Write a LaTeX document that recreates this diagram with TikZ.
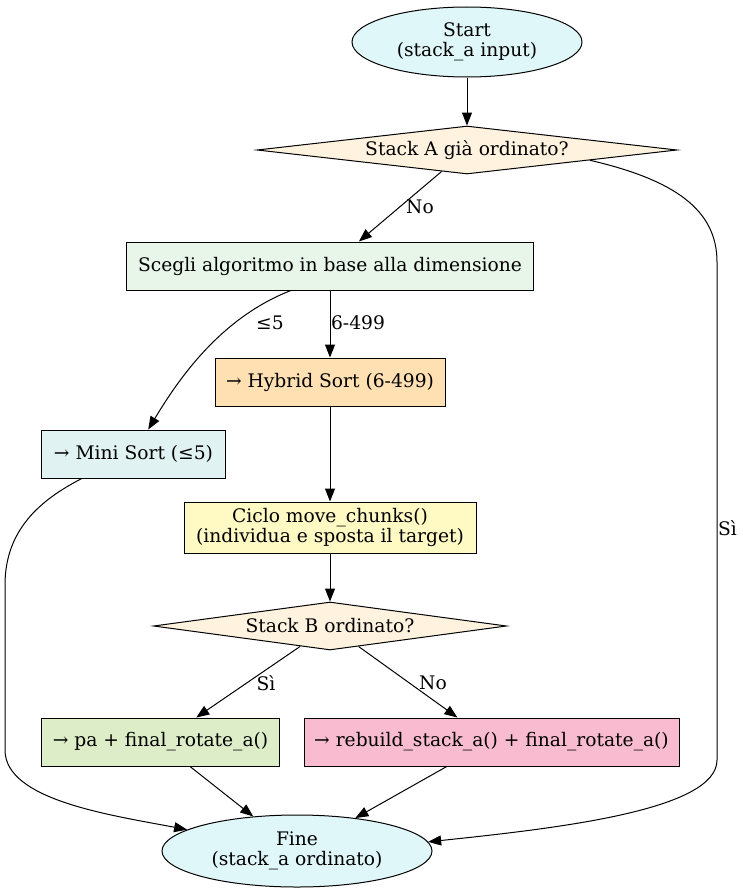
\documentclass[tikz,border=0pt]{standalone}
\usepackage{fontspec}
\setmainfont{DejaVu Serif}
\usetikzlibrary{shapes.geometric,arrows.meta,calc}
\definecolor{cterm}{HTML}{E0F7FA}
\definecolor{cdec}{HTML}{FFF3E0}
\definecolor{csc}{HTML}{E8F5E9}
\definecolor{chy}{HTML}{FFE0B2}
\definecolor{cmini}{HTML}{E0F2F1}
\definecolor{cci}{HTML}{FFF9C4}
\definecolor{cpa}{HTML}{DCEDC8}
\definecolor{crb}{HTML}{F8BBD0}
\tikzset{
  base/.style={draw=black, line width=1bp, inner sep=0pt, align=center},
  box/.style={base, rectangle, minimum height=48bp},
  term/.style={base, ellipse},
  dec/.style={base, diamond, aspect=8},
  arr/.style={-{Triangle[length=13bp,width=10bp]}, line width=1bp},
  lbl/.style={inner sep=1bp}
}
\begin{document}
\begin{tikzpicture}[x=1bp,y=1bp,font=\fontsize{18.67bp}{20bp}\selectfont]
\useasboundingbox (0,0) rectangle (743,-893);
% nodes
\node[term, fill=cterm, minimum width=230bp, minimum height=70bp] (start) at (467,-42) {Start\\(stack\_a input)};
\node[dec, fill=cdec, minimum width=420bp, minimum height=48bp] (da) at (467,-150) {Stack A già ordinato?};
\node[box, fill=csc, minimum width=406bp] (sc) at (330,-266) {Scegli algoritmo in base alla dimensione};
\node[box, fill=chy, minimum width=230bp] (hy) at (330,-382) {→ Hybrid Sort (6-499)};
\node[box, fill=cmini, minimum width=183bp] (mini) at (133.5,-454) {→ Mini Sort (≤5)};
\node[box, fill=cci, minimum width=292bp, minimum height=51bp] (ci) at (330,-527.5) {Ciclo move\_chunks()\\(individua e sposta il target)};
\node[dec, fill=cdec, minimum width=353bp, minimum height=48bp] (db) at (330,-626) {Stack B ordinato?};
\node[box, fill=cpa, minimum width=237bp] (pa) at (160.5,-742) {→ pa + final\_rotate\_a()};
\node[box, fill=crb, minimum width=375bp] (rb) at (491.5,-742) {→ rebuild\_stack\_a() + final\_rotate\_a()};
\node[term, fill=cterm, minimum width=270bp, minimum height=72bp] (fine) at (297,-851) {Fine\\(stack\_a ordinato)};
% helper points
\coordinate (daR) at ($(da.east)!0.417!(da.south)$);
\coordinate (scL) at ($(sc.south west)!0.404!(sc.south east)$);
\coordinate (miniT) at ($(mini.north west)!0.58!(mini.north east)$);
\coordinate (miniB) at ($(mini.south west)!0.219!(mini.south east)$);
\coordinate (paB) at ($(pa.south west)!0.624!(pa.south east)$);
\coordinate (rbB) at ($(rb.south west)!0.381!(rb.south east)$);
% edges
\draw[arr] (start) -- (da);
\draw[arr] (da) -- (sc);
\draw[arr] (daR) .. controls (675,-180) and (717,-210) .. (717,-262) -- (717,-760) .. controls (717,-810) and (560,-828) .. (fine.4);
\draw[arr] (scL) .. controls (220,-318) and (178,-380) .. (miniT);
\draw[arr] (sc) -- (hy);
\draw[arr] (hy) -- (ci);
\draw[arr] (ci) -- (db);
\draw[arr] (miniB) .. controls (40,-500) and (5,-530) .. (5,-585) -- (5,-750) .. controls (5,-800) and (110,-815) .. (fine.169);
\draw[arr] (db) -- (pa);
\draw[arr] (db) -- (rb);
\draw[arr] (paB) -- (fine);
\draw[arr] (rbB) -- (fine);
% labels
\node[lbl] (lno1) at (420,-207) {No};
\node[lbl, anchor=west] (lsi1) at (717,-528) {Sì};
\node[lbl] (l5) at (270,-323) {≤5};
\node[lbl] (l6) at (358,-323) {6-499};
\node[lbl] (lsi2) at (266,-683) {Sì};
\node[lbl] (lno2) at (433,-683) {No};
\end{tikzpicture}
\end{document}
